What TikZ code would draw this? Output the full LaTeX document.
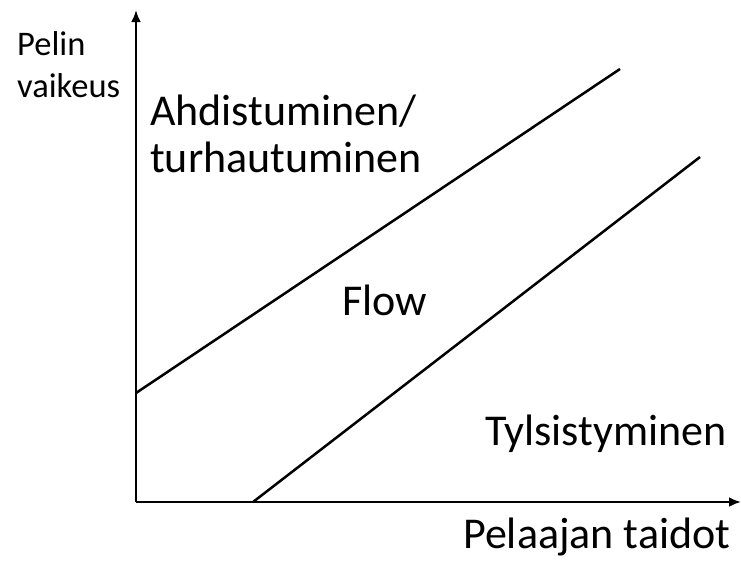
\documentclass[tikz,border=0pt]{standalone}
\usepackage{fontspec}
\setmainfont{Carlito}
\usetikzlibrary{arrows.meta}
\begin{document}
\begin{tikzpicture}[x=1pt,y=-1pt,
  axis/.style={line width=2.5pt,-{Latex[length=12pt,width=10pt]}},
  bound/.style={line width=2.5pt},
  small/.style={anchor=base west,inner sep=0pt,font=\fontsize{34.5}{40}\selectfont},
  big/.style={anchor=base west,inner sep=0pt,font=\fontsize{44}{48}\selectfont}]
\useasboundingbox (0,0) rectangle (741,560);
\coordinate (o) at (136,502);
\coordinate (ytop) at (136,10);
\coordinate (xend) at (741,502);
\coordinate (a1) at (136,393);
\coordinate (a2) at (620,69);
\coordinate (b1) at (253,502);
\coordinate (b2) at (700,157);
\draw[axis] (o) -- (ytop);
\draw[axis] (o) -- (xend);
\draw[bound] (a1) -- (a2);
\draw[bound] (b1) -- (b2);
\node[small] (p1) at (17,55) {Pelin};
\node[small] (p2) at (17,97) {vaikeus};
\node[big] (h1) at (150,125) {Ahdistuminen/};
\node[big] (h2) at (150,172) {turhautuminen};
\node[big] (f) at (342,315) {Flow};
\node[big] (t) at (485,445) {Tylsistyminen};
\node[big] (x) at (463,548) {Pelaajan taidot};
\end{tikzpicture}
\end{document}
